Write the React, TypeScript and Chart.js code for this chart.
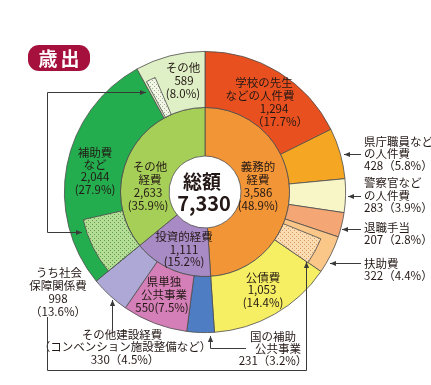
import { useEffect, useRef } from 'react';
import { Chart, DoughnutController, ArcElement } from 'chart.js';

Chart.register(DoughnutController, ArcElement);

// ---------- data ----------
const outerNames = [
  '学校の先生などの人件費', '県庁職員などの人件費', '警察官などの人件費', '退職手当', '扶助費',
  '公債費', '国の補助公共事業', '県単独公共事業', 'その他建設経費', '補助費など', 'その他',
];
const outerValues = [1294, 428, 283, 207, 322, 1053, 231, 550, 330, 2044, 589];
const outerColors = [
  '#e8501f', '#f5a623', '#f8f5c6', '#f4a774', '#fbc788',
  '#f6ee63', '#4f7dc3', '#d47fb7', '#aea8d6', '#23ad4e', '#dff0c6',
];
const innerNames = ['義務的経費', '投資的経費', 'その他経費'];
const innerValues = [3586, 1111, 2633];
const innerColors = ['#f29536', '#a88ac4', '#a6cf57'];

// うち社会保障関係費 (shaded parts inside outer segments)
const socialTotal = 998;
const socialParts = [4, 9, 10]; // outer segment index
const socialOffsets = [69, 0, 20]; // value units from segment start
const socialSpans = [253, 540, 90]; // value units
const socialFills = [
  ['#fcdcb3', '#d9995a'],
  ['#b6dd96', '#5a9f50'],
  ['#f3f6e6', '#9db38a'],
];

const TOTAL = innerValues.reduce((a, b) => a + b, 0);
const num = (v: number) => v.toLocaleString('en-US');
const pctH = (v: number) => '(' + ((v / TOTAL) * 100).toFixed(1) + '%)';
const pctF = (v: number) => '（' + ((v / TOTAL) * 100).toFixed(1) + '%）';

const FONT = '"Noto Sans CJK JP", "Noto Sans", sans-serif';
const TEXT = '#231815';
const LINE = '#3a3a3a';

type Line = [string, number, number];
type Block = { lines: Line[]; align?: CanvasTextAlign };

const blocks: Block[] = [
  { lines: [['学校の先生', 264, 83], ['などの人件費', 260, 96], [num(outerValues[0]), 274, 109], [pctF(outerValues[0]), 280, 122]] },
  { lines: [['その他', 183, 68], [num(outerValues[10]), 184, 81], [pctH(outerValues[10]), 183, 94]] },
  { lines: [['補助費', 95, 153], ['など', 95, 165], [num(outerValues[9]), 95, 177], [pctH(outerValues[9]), 95, 190]] },
  { lines: [['その他', 150, 167], ['経費', 150, 180], [num(innerValues[2]), 148, 193], [pctH(innerValues[2]), 148, 206]] },
  { lines: [['義務的', 258, 167], ['経費', 258, 180], [num(innerValues[0]), 258, 193], [pctH(innerValues[0]), 258, 206]] },
  { lines: [['投資的経費', 184, 237], [num(innerValues[1]), 184, 250], [pctH(innerValues[1]), 184, 262]] },
  { lines: [['県単独', 164, 282], ['公共事業', 164, 295], [num(outerValues[7]) + pctH(outerValues[7]), 162, 308]] },
  { lines: [['公債費', 263, 278], [num(outerValues[5]), 262, 290], [pctH(outerValues[5]), 263, 303]] },
  { lines: [['国の補助', 273, 337], ['公共事業', 278, 349], [num(outerValues[6]) + pctF(outerValues[6]), 273, 361]] },
  { lines: [['その他建設経費', 122, 335], ['（コンベンション施設整備など）', 125, 347], [num(outerValues[8]) + pctF(outerValues[8]), 125, 360]] },
  { lines: [['うち社会', 59, 273], ['保障関係費', 58, 286], [num(socialTotal), 58, 299], [pctF(socialTotal), 58, 312]] },
  { align: 'left', lines: [['県庁職員など', 364, 142], ['の人件費', 364, 154], [num(outerValues[1]) + pctF(outerValues[1]), 364, 166]] },
  { align: 'left', lines: [['警察官など', 364, 183], ['の人件費', 364, 196], [num(outerValues[2]) + pctF(outerValues[2]), 364, 208]] },
  { align: 'left', lines: [['退職手当', 364, 228], [num(outerValues[3]) + pctF(outerValues[3]), 364, 240]] },
  { align: 'left', lines: [['扶助費', 364, 264], [num(outerValues[4]) + pctF(outerValues[4]), 364, 276]] },
];

function makePattern(ctx: CanvasRenderingContext2D, bg: string, dot: string) {
  const c = document.createElement('canvas');
  c.width = 4;
  c.height = 4;
  const g = c.getContext('2d')!;
  g.fillStyle = bg;
  g.fillRect(0, 0, 4, 4);
  g.fillStyle = dot;
  g.fillRect(0, 0, 1, 1);
  g.fillRect(2, 2, 1, 1);
  return ctx.createPattern(c, 'repeat')!;
}

function arrow(ctx: CanvasRenderingContext2D, pts: [number, number][]) {
  ctx.beginPath();
  ctx.moveTo(pts[0][0], pts[0][1]);
  for (let i = 1; i < pts.length; i++) ctx.lineTo(pts[i][0], pts[i][1]);
  ctx.stroke();
  const [tx, ty] = pts[pts.length - 1];
  const [px, py] = pts[pts.length - 2];
  const ang = Math.atan2(ty - py, tx - px);
  const L = 6, W = 2.6;
  ctx.beginPath();
  ctx.moveTo(tx, ty);
  ctx.lineTo(tx - L * Math.cos(ang) + W * Math.sin(ang), ty - L * Math.sin(ang) - W * Math.cos(ang));
  ctx.lineTo(tx - L * Math.cos(ang) - W * Math.sin(ang), ty - L * Math.sin(ang) + W * Math.cos(ang));
  ctx.closePath();
  ctx.fill();
}

const overlay = {
  id: 'overlay',
  afterDatasetsDraw(chart: any) {
    const ctx: CanvasRenderingContext2D = chart.ctx;
    const meta = chart.getDatasetMeta(0);
    ctx.save();
    // shaded social-security parts
    socialParts.forEach((idx, k) => {
      const arc = meta.data[idx];
      const p = arc.getProps(['x', 'y', 'startAngle', 'endAngle', 'innerRadius', 'outerRadius'], true);
      const per = (p.endAngle - p.startAngle) / outerValues[idx];
      const a0 = p.startAngle + socialOffsets[k] * per;
      const a1 = a0 + socialSpans[k] * per;
      const r0 = p.innerRadius;
      const r1 = p.innerRadius + 0.72 * (p.outerRadius - p.innerRadius);
      ctx.beginPath();
      ctx.arc(p.x, p.y, r1, a0, a1);
      ctx.arc(p.x, p.y, r0, a1, a0, true);
      ctx.closePath();
      ctx.fillStyle = makePattern(ctx, socialFills[k][0], socialFills[k][1]);
      ctx.fill();
      ctx.strokeStyle = '#4d4d4d';
      ctx.lineWidth = 0.8;
      ctx.stroke();
    });

    // center text
    const c = meta.data[0];
    const cx = c.x, cy = c.y;
    ctx.fillStyle = TEXT;
    ctx.textAlign = 'center';
    ctx.textBaseline = 'middle';
    ctx.font = `bold 19px ${FONT}`;
    ctx.fillText('総額', cx - 3, cy - 10);
    ctx.font = `bold 20px ${FONT}`;
    ctx.fillText(num(TOTAL), cx - 1, cy + 11);

    // labels
    ctx.font = `11.5px ${FONT}`;
    blocks.forEach((b) => {
      ctx.textAlign = b.align || 'center';
      b.lines.forEach(([t, x, y]) => ctx.fillText(t, x, y));
    });

    // leader lines & arrows
    ctx.strokeStyle = LINE;
    ctx.fillStyle = LINE;
    ctx.lineWidth = 1;
    arrow(ctx, [[361, 154.5], [344, 154.5]]);
    arrow(ctx, [[361, 196.5], [348, 196.5]]);
    arrow(ctx, [[361, 229.5], [342, 229.5]]);
    arrow(ctx, [[361, 263.5], [330, 263.5]]);
    arrow(ctx, [[47.5, 232.5], [47.5, 92.5], [146, 92.5]]);
    arrow(ctx, [[47.5, 232.5], [82, 232.5]]);
    arrow(ctx, [[47.5, 317], [47.5, 370.5], [306.5, 370.5], [306.5, 262]]);
    arrow(ctx, [[246, 348.5], [210.5, 348.5], [210.5, 336]]);
    arrow(ctx, [[112.5, 331], [112.5, 300]]);

    // title badge
    ctx.fillStyle = '#a5103c';
    ctx.beginPath();
    (ctx as any).roundRect(28, 45, 62, 26, 11);
    ctx.fill();
    ctx.fillStyle = '#ffffff';
    ctx.font = `bold 19px ${FONT}`;
    ctx.textAlign = 'center';
    ctx.textBaseline = 'middle';
    (ctx as any).letterSpacing = '3px';
    ctx.fillText('歳出', 60.5, 58.5);
    (ctx as any).letterSpacing = '0px';
    ctx.restore();
  },
};

export default function App() {
  const ref = useRef<HTMLCanvasElement | null>(null);
  useEffect(() => {
    document.body.style.margin = '0';
    const chart = new Chart(ref.current!, {
      type: 'doughnut',
      data: {
        labels: outerNames,
        datasets: [
          { data: outerValues, backgroundColor: outerColors, borderColor: '#4d4d4d', borderWidth: 0.8, weight: 56 } as any,
          { data: innerValues, backgroundColor: innerColors, borderColor: '#4d4d4d', borderWidth: 0.8, weight: 48.5, labels: innerNames } as any,
        ],
      },
      options: {
        responsive: false,
        animation: false,
        devicePixelRatio: 1,
        events: [],
        cutout: '25.6%',
        layout: { padding: { left: 64, right: 85, top: 51, bottom: 52 } },
      } as any,
      plugins: [overlay],
    });
    return () => chart.destroy();
  }, []);
  return <canvas ref={ref} width={431} height={385} style={{ display: 'block' }} />;
}
